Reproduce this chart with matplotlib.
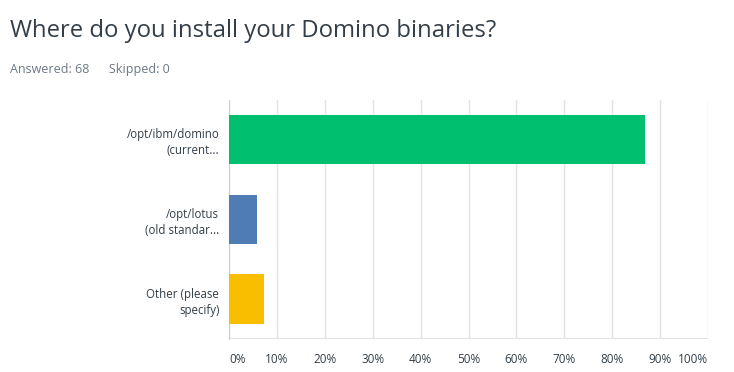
import matplotlib
matplotlib.use("Agg")
import matplotlib.pyplot as plt
from matplotlib.ticker import PercentFormatter

# survey answers (count out of 68)
categories = ["/opt/ibm/domino\n(current...", "/opt/lotus\n(old standar...", "Other (please\nspecify)"]
percents = [86.76, 5.88, 7.35]
colors = ["#00bf6f", "#507cb6", "#f9be00"]
x_ticks = [0, 10, 20, 30, 40, 50, 60, 70, 80, 90, 100]

plt.rcParams['font.family'] = ['Open Sans', 'DejaVu Sans']

fig = plt.figure(figsize=(7.34, 3.72), dpi=100)
ax = fig.add_axes([229 / 734, 1 - 339 / 372, 479 / 734, 239.5 / 372])

y_pos = list(range(len(categories)))
ax.barh(y_pos, percents, height=0.62, color=colors, zorder=3)
ax.set_ylim(len(categories) - 0.5, -0.5)
ax.set_xlim(0, 100)

ax.set_xticks(x_ticks)
ax.xaxis.set_major_formatter(PercentFormatter(decimals=0))
ax.set_yticks(y_pos)
ax.set_yticklabels(categories, fontsize=8.3, color="#333e48", linespacing=1.35)
ax.tick_params(axis='x', length=0, pad=10, labelsize=8.5, labelcolor="#333e48")
ax.tick_params(axis='y', length=0, pad=7)

# first label starts at the axis, last one ends at the right edge
xlabels = ax.get_xticklabels()
xlabels[0].set_horizontalalignment("left")
xlabels[-1].set_horizontalalignment("right")

ax.grid(axis='x', color="#e3e3e3", linewidth=1, zorder=0)
for side in ["top", "right", "bottom"]:
    ax.spines[side].set_visible(False)
ax.spines["left"].set_color("#cccccc")
ax.axhline(len(categories) - 0.5, color="#e3e3e3", linewidth=1.5, zorder=1)

fig.text(10 / 734, 1 - 31 / 372, "Where do you install your Domino binaries?",
         fontsize=17.2, color="#333e48", va="center", ha="left")
fig.text(10 / 734, 1 - 69 / 372, "Answered: 68      Skipped: 0",
         fontsize=9, color="#6b7885", va="center", ha="left")

plt.savefig("out.png", dpi=100)
